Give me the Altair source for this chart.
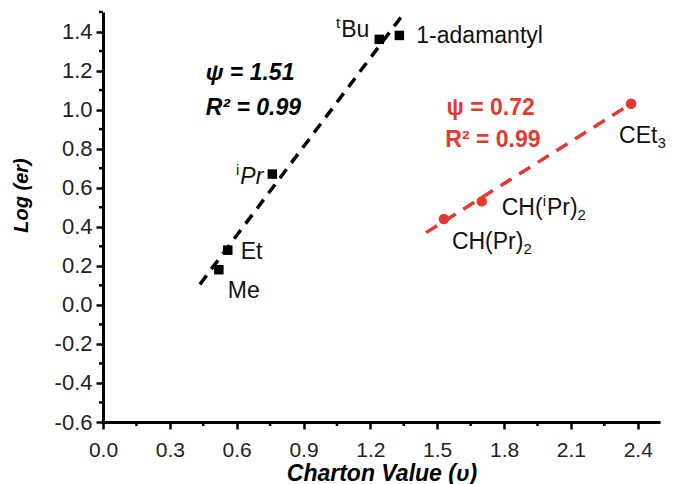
import altair as alt
import pandas as pd

# ---- data ----
alkyl_names = ["Me", "Et", "ⁱPr", "ᵗBu", "1-adamantyl"]
alkyl_charton = [0.52, 0.56, 0.76, 1.24, 1.33]
alkyl_log_er = [0.18, 0.28, 0.67, 1.36, 1.38]

branched_names = ["CH(Pr)₂", "CH(ⁱPr)₂", "CEt₃"]
branched_charton = [1.53, 1.70, 2.37]
branched_log_er = [0.44, 0.53, 1.03]

# fitted lines (end points)
alkyl_fit_x = [0.435, 1.355]
alkyl_fit_y = [0.105, 1.50]
branched_fit_x = [1.45, 2.37]
branched_fit_y = [0.37, 1.03]

alkyl_stats = ["ψ = 1.51", "R² = 0.99"]
alkyl_stats_x = [0.66, 0.675]
alkyl_stats_y = [1.154, 0.974]
branched_stats = ["ψ = 0.72", "R² = 0.99"]
branched_stats_x = [1.74, 1.75]
branched_stats_y = [0.974, 0.81]

x_ticks = [0.0, 0.3, 0.6, 0.9, 1.2, 1.5, 1.8, 2.1, 2.4]
y_ticks = [-0.6, -0.4, -0.2, 0.0, 0.2, 0.4, 0.6, 0.8, 1.0, 1.2, 1.4]
x_minor = [0.15, 0.45, 0.75, 1.05, 1.35, 1.65, 1.95, 2.25]
y_minor = [-0.5, -0.3, -0.1, 0.1, 0.3, 0.5, 0.7, 0.9, 1.1, 1.3, 1.5]

RED = "#e23a30"
FONT = "Liberation Sans"
FS = 23      # label font size
FS_SMALL = 15

alkyl = pd.DataFrame({"name": alkyl_names, "x": alkyl_charton, "y": alkyl_log_er})
branched = pd.DataFrame({"name": branched_names, "x": branched_charton, "y": branched_log_er})
alkyl_fit = pd.DataFrame({"x": alkyl_fit_x, "y": alkyl_fit_y})
branched_fit = pd.DataFrame({"x": branched_fit_x, "y": branched_fit_y})
a_stats = pd.DataFrame({"t": alkyl_stats, "x": alkyl_stats_x, "y": alkyl_stats_y})
b_stats = pd.DataFrame({"t": branched_stats, "x": branched_stats_x, "y": branched_stats_y})

xs = alt.Scale(domain=[0, 2.5], nice=False, zero=False)
ys = alt.Scale(domain=[-0.6, 1.5], nice=False, zero=False)

lab_expr = "datum.value < 0 ? '-' + format(-datum.value, '.1f') : format(datum.value, '.1f')"

x_axis = alt.Axis(values=x_ticks, labelExpr=lab_expr, title="Charton Value (υ)",
                  grid=False, tickSize=7, tickWidth=2.5, domainWidth=3, labelFlush=False,
                  domainColor="black", tickColor="black", labelColor="#222",
                  labelFont=FONT, labelFontSize=21, labelPadding=10,
                  titleFont=FONT, titleFontSize=23, titleFontWeight="bold",
                  titleFontStyle="italic", titleColor="black", titlePadding=2)
y_axis = alt.Axis(values=y_ticks, labelExpr=lab_expr, title="Log (er)",
                  grid=False, tickSize=7, tickWidth=2.5, domainWidth=3, labelFlush=False,
                  domainColor="black", tickColor="black", labelColor="#222",
                  labelFont=FONT, labelFontSize=22, labelPadding=4,
                  titleFont=FONT, titleFontSize=20, titleFontWeight="bold",
                  titleFontStyle="italic", titleColor="black",
                  titleX=-72, titleY=183, titleAlign="center")


def X():
    return alt.X("x:Q", scale=xs, axis=x_axis)


def Y():
    return alt.Y("y:Q", scale=ys, axis=y_axis)


layers = []

layers.append(alt.Chart(alkyl_fit).mark_line(color="black", strokeWidth=3.5, strokeDash=[11, 8])
              .encode(x=X(), y=Y()))
layers.append(alt.Chart(branched_fit).mark_line(color=RED, strokeWidth=3.5, strokeDash=[13, 9])
              .encode(x=X(), y=Y()))

# minor ticks
layers.append(alt.Chart(pd.DataFrame({"y": y_minor})).mark_rule(color="black", strokeWidth=2.5)
              .encode(y=Y(), x=alt.value(-4), x2=alt.value(0)))
layers.append(alt.Chart(pd.DataFrame({"x": x_minor})).mark_rule(color="black", strokeWidth=2.5)
              .encode(x=X(), y=alt.value(410), y2=alt.value(414)))

# points
layers.append(alt.Chart(alkyl).mark_point(shape="square", filled=True, color="black", size=90, opacity=1)
              .encode(x=X(), y=Y()))
layers.append(alt.Chart(branched).mark_point(shape="circle", filled=True, color=RED, size=110, opacity=1)
              .encode(x=X(), y=Y()))

# ---- rich text labels (real super/subscripts) ----
# Arial / Liberation Sans advance widths (em)
W = {"C": .722, "H": .722, "(": .333, ")": .333, "P": .667, "r": .333, "E": .667,
     "t": .278, "i": .222, "B": .667, "u": .556, "2": .556, "3": .556, "M": .833,
     "e": .556, "1": .556, "-": .333, "a": .556, "d": .556, "m": .833, "n": .556,
     "y": .5, "l": .222}
SUP = {"ⁱ": "i", "ᵗ": "t", "²": "2"}
SUB = {"₂": "2", "₃": "3"}


def pieces(name):
    out = []
    for ch in name:
        if ch in SUP:
            kind, c = "sup", SUP[ch]
        elif ch in SUB:
            kind, c = "sub", SUB[ch]
        else:
            kind, c = "main", ch
        if out and out[-1][1] == kind:
            out[-1][0] += c
        else:
            out.append([c, kind])
    return out


def label(df, i, dx, dy, align="left", style="normal"):
    row = df.iloc[[i]][["x", "y"]].reset_index(drop=True)
    segs = pieces(df["name"].iloc[i])
    widths = []
    for txt, kind in segs:
        size = FS if kind == "main" else FS_SMALL
        widths.append(sum(W.get(c, .556) for c in txt) * size + (1 if kind != "main" else 0))
    start = dx - sum(widths) if align == "right" else dx
    out = []
    pos = start
    for (txt, kind), w in zip(segs, widths):
        size = FS if kind == "main" else FS_SMALL
        ddy = dy + (-9 if kind == "sup" else (5 if kind == "sub" else 0))
        st = style if kind == "main" else "normal"
        d = row.assign(t=txt)
        out.append(alt.Chart(d).mark_text(font=FONT, fontSize=size, color="#111", align="left",
                                          baseline="alphabetic", dx=pos, dy=ddy, fontStyle=st)
                   .encode(x=X(), y=Y(), text="t:N"))
        pos += w
    return out


layers += label(alkyl, 0, 9, 28)
layers += label(alkyl, 1, 13, 9)
layers += label(alkyl, 2, -9, 10, "right", "italic")
layers += label(alkyl, 3, -10, -2, "right")
layers += label(alkyl, 4, 17, 8)
layers += label(branched, 0, 8, 30)
layers += label(branched, 1, 20, 14)
layers += label(branched, 2, -12, 39)

layers.append(alt.Chart(a_stats).mark_text(font=FONT, fontSize=23, fontWeight="bold", fontStyle="italic",
                                           color="black", align="center", baseline="alphabetic")
              .encode(x=X(), y=Y(), text="t:N"))
layers.append(alt.Chart(b_stats).mark_text(font=FONT, fontSize=23, fontWeight="bold",
                                           color=RED, align="center", baseline="alphabetic")
              .encode(x=X(), y=Y(), text="t:N"))

chart = (alt.layer(*layers)
         .properties(width=557, height=410,
                     autosize=alt.AutoSizeParams(type="none"),
                     padding={"left": 103, "top": 12, "right": 14, "bottom": 62},
                     background="white")
         .configure_view(stroke=None))

chart.save("out.html", embed_options={"renderer": "svg", "actions": False})
